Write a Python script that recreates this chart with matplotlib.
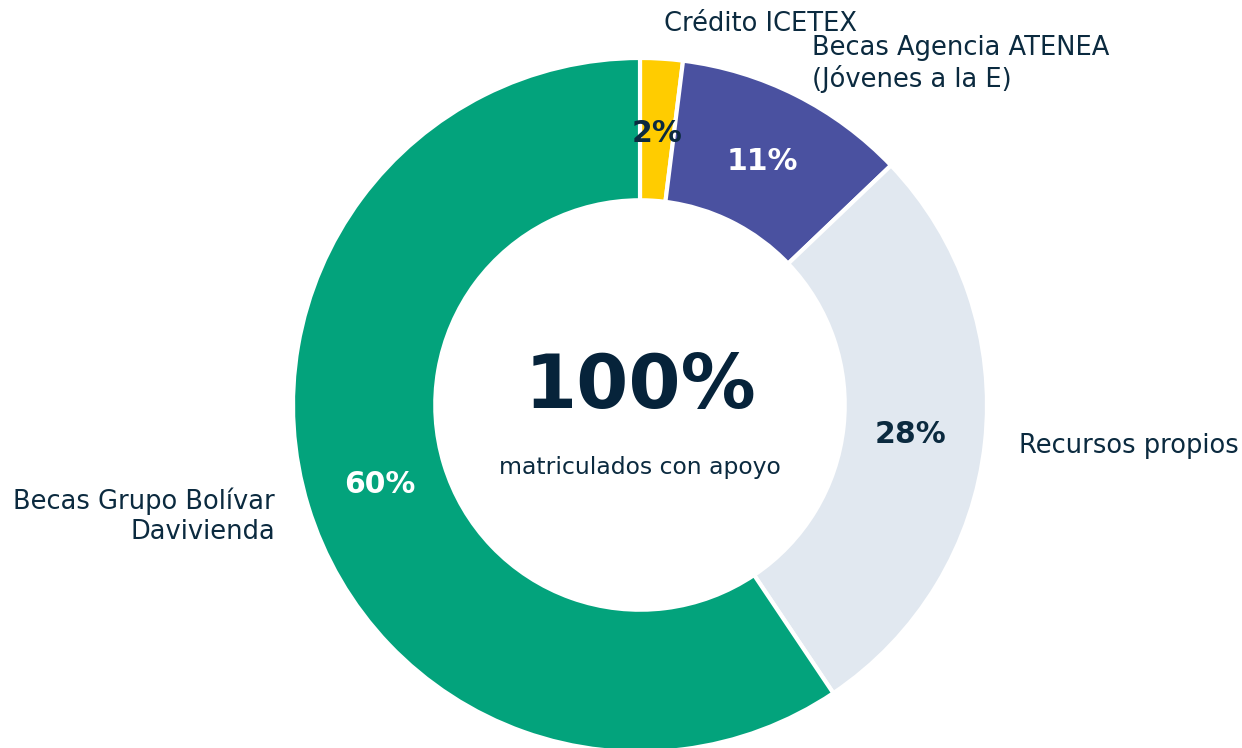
import matplotlib.pyplot as plt

plt.rcParams["font.family"] = "DejaVu Sans"

categories = ["Crédito ICETEX", "Becas Agencia ATENEA\n(Jóvenes a la E)",
              "Recursos propios", "Becas Grupo Bolívar\nDavivienda"]
values = [2, 11, 28, 60]
colors = ["#FFCC00", "#4A51A0", "#E1E8F0", "#03A37C"]
pct_colors = ["#0B2A3F", "white", "#0B2A3F", "white"]
center_value = "100%"
center_text = "matriculados con apoyo"

TEXT = "#0B2A3F"

fig = plt.figure(figsize=(12.42, 7.48), dpi=100)
ax = fig.add_axes([0, 0, 1, 1])

wedges, texts, autotexts = ax.pie(
    values, labels=categories, colors=colors, startangle=90, counterclock=False,
    labeldistance=1.1, pctdistance=0.785, autopct="%1.0f%%",
    wedgeprops=dict(width=0.41, edgecolor="white", linewidth=3),
    textprops=dict(fontsize=18.5, color=TEXT))

for t, v, c in zip(autotexts, values, pct_colors):
    t.set_text(f"{v}%")
    t.set_color(c)
    t.set_fontsize(21.5)
    t.set_fontweight("bold")

ax.text(0, 0.05, center_value, ha="center", va="center", fontsize=54,
        fontweight="bold", color="#06233A")
ax.text(0, -0.18, center_text, ha="center", va="center", fontsize=16.9, color=TEXT)

# 1 data unit = 347 px, donut centre at (640, 405) px
ax.set_aspect("auto")
ax.set_xlim(-640 / 347, (1242 - 640) / 347)
ax.set_ylim(-(748 - 405) / 347, 405 / 347)
ax.axis("off")

fig.savefig("out.png", dpi=100)
